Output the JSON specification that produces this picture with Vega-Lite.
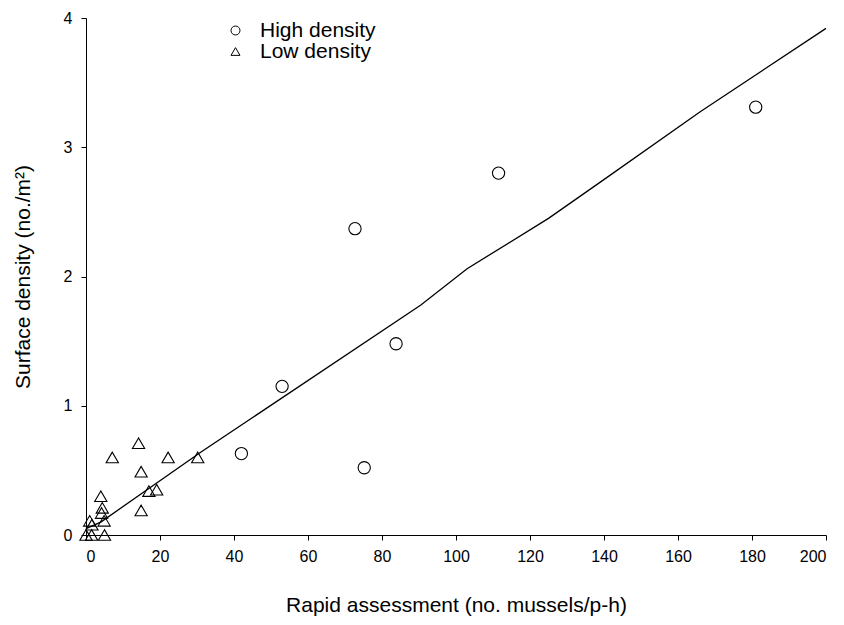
{
  "$schema": "https://vega.github.io/schema/vega-lite/v6.json",
  "autosize": "none",
  "width": 740,
  "height": 517,
  "padding": {"left": 86, "top": 18, "right": 18, "bottom": 90},
  "background": "white",
  "config": {
    "view": {"stroke": null},
    "font": "Liberation Sans",
    "axis": {"grid": false, "domainColor": "black", "tickColor": "black", "labelColor": "black", "titleColor": "black", "labelFont": "Liberation Sans", "titleFont": "Liberation Sans", "titleFontWeight": "normal", "labelFontSize": 16, "titleFontSize": 21, "tickSize": 5, "domainWidth": 1}
  },
  "datasets": {
    "pts": [
      {"x": 42, "y": 0.63, "group": "High density"},
      {"x": 53, "y": 1.15, "group": "High density"},
      {"x": 72.7, "y": 2.37, "group": "High density"},
      {"x": 75.2, "y": 0.52, "group": "High density"},
      {"x": 83.8, "y": 1.48, "group": "High density"},
      {"x": 111.5, "y": 2.8, "group": "High density"},
      {"x": 181, "y": 3.31, "group": "High density"},
      {"x": 14.2, "y": 0.71, "group": "Low density"},
      {"x": 7.1, "y": 0.6, "group": "Low density"},
      {"x": 22.2, "y": 0.6, "group": "Low density"},
      {"x": 30.2, "y": 0.6, "group": "Low density"},
      {"x": 14.9, "y": 0.49, "group": "Low density"},
      {"x": 17.0, "y": 0.34, "group": "Low density"},
      {"x": 19.1, "y": 0.35, "group": "Low density"},
      {"x": 14.9, "y": 0.19, "group": "Low density"},
      {"x": 4.0, "y": 0.3, "group": "Low density"},
      {"x": 4.4, "y": 0.21, "group": "Low density"},
      {"x": 4.2, "y": 0.17, "group": "Low density"},
      {"x": 4.9, "y": 0.11, "group": "Low density"},
      {"x": 1.0, "y": 0.11, "group": "Low density"},
      {"x": 1.6, "y": 0.08, "group": "Low density"},
      {"x": 0.0, "y": 0.0, "group": "Low density"},
      {"x": 1.5, "y": 0.0, "group": "Low density"},
      {"x": 5.0, "y": 0.0, "group": "Low density"}
    ],
    "fit": [
      {"x": 0, "y": 0.05},
      {"x": 4, "y": 0.1},
      {"x": 31, "y": 0.64},
      {"x": 90.5, "y": 1.78},
      {"x": 103, "y": 2.06},
      {"x": 125, "y": 2.45},
      {"x": 139, "y": 2.73},
      {"x": 166, "y": 3.275},
      {"x": 200, "y": 3.92}
    ]
  },
  "layer": [
    {
      "data": {"name": "fit"},
      "mark": {"type": "line", "color": "black", "strokeWidth": 1.3},
      "encoding": {
        "x": {"field": "x", "type": "quantitative", "scale": {"domain": [0, 200], "nice": false}, "axis": {"values": [0,20,40,60,80,100,120,140,160,180,200], "format": "d", "title": "Rapid assessment (no. mussels/p-h)", "labelPadding": 8, "titlePadding": 30}},
        "y": {"field": "y", "type": "quantitative", "scale": {"domain": [0, 4], "nice": false}, "axis": {"values": [0,1,2,3,4], "format": "d", "title": "Surface density (no./m²)", "labelPadding": 9, "titlePadding": 30}}
      }
    },
    {
      "data": {"name": "pts"},
      "mark": {"type": "point", "filled": false, "color": "black", "strokeWidth": 1.1, "opacity": 1},
      "encoding": {
        "x": {"field": "x", "type": "quantitative"},
        "y": {"field": "y", "type": "quantitative"},
        "shape": {"field": "group", "type": "nominal", "scale": {"domain": ["High density", "Low density"], "range": ["circle", "triangle-up"]},
          "legend": {"title": null, "orient": "none", "legendX": 139, "legendY": 2, "labelFontSize": 21, "labelFont": "Liberation Sans", "labelColor": "black", "symbolSize": 80, "symbolStrokeColor": "black", "symbolStrokeWidth": 1, "symbolFillColor": "transparent", "rowPadding": -4, "labelOffset": 14}},
        "size": {"value": 150}
      }
    }
  ]
}
